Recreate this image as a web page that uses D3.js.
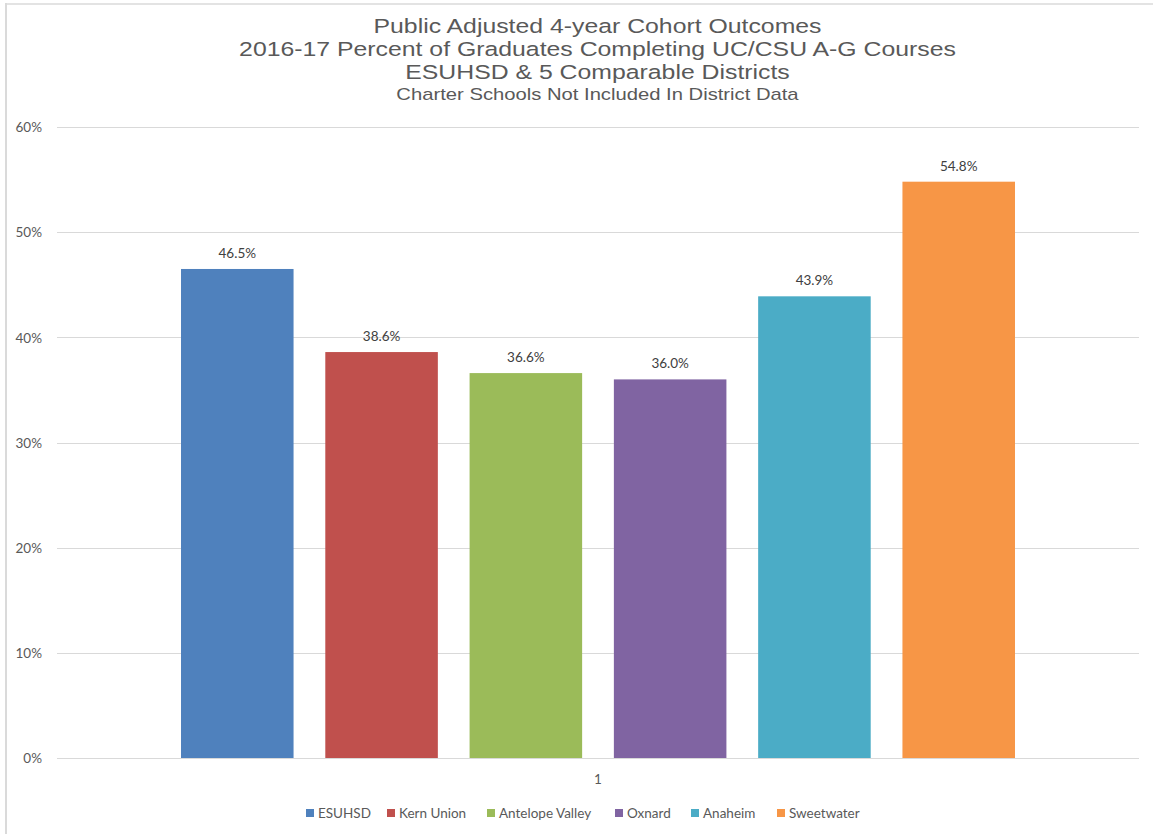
<!DOCTYPE html>
<html>
<head>
<meta charset="utf-8">
<script src="https://cdn.jsdelivr.net/npm/d3@7/dist/d3.min.js"></script>
<style>
  html, body { margin: 0; padding: 0; background: #fff; }
  svg { display: block; }
</style>
</head>
<body>
<script>
const categories = ["1"];
const seriesNames = ["ESUHSD", "Kern Union", "Antelope Valley", "Oxnard", "Anaheim", "Sweetwater"];
const seriesValues = [46.5, 38.6, 36.6, 36.0, 43.9, 54.8];
const seriesColors = ["#4F81BD", "#C0504D", "#9BBB59", "#8064A2", "#4BACC6", "#F79646"];
const yTicks = [0, 10, 20, 30, 40, 50, 60];
const titleLines = [
  "Public Adjusted 4-year Cohort Outcomes",
  "2016-17 Percent of Graduates Completing UC/CSU A-G Courses",
  "ESUHSD & 5 Comparable Districts"
];
const subtitle = "Charter Schools Not Included In District Data";

const W = 1153, H = 834;
const svg = d3.select("body").append("svg").attr("width", W).attr("height", H);

// outer frame (light grey)
svg.append("line").attr("x1", 6).attr("x2", 6).attr("y1", 3).attr("y2", H).attr("stroke", "#dadada").attr("stroke-width", 2);
svg.append("line").attr("x1", 5).attr("x2", W).attr("y1", 4).attr("y2", 4).attr("stroke", "#dadada").attr("stroke-width", 1.5);

const plot = { left: 57, right: 1139, top: 127, bottom: 758 };

const y = d3.scaleLinear().domain([0, 60]).range([plot.bottom, plot.top]);
const x0 = d3.scaleBand().domain(categories).range([plot.left, plot.right]).paddingInner(0).paddingOuter(0.1487);
const x1 = d3.scaleBand().domain(seriesNames).range([0, x0.bandwidth()]).paddingInner(0.22).paddingOuter(0);

const fontUI = "Lato, 'Open Sans', sans-serif";
const textCol = "#595959";
const uiSize = 13.5;

// gridlines
svg.append("g").selectAll("line").data(yTicks).join("line")
  .attr("x1", plot.left).attr("x2", plot.right)
  .attr("y1", d => Math.round(y(d)) + 0.5).attr("y2", d => Math.round(y(d)) + 0.5)
  .attr("stroke", "#d9d9d9").attr("stroke-width", 1);

// y axis labels
const yAxis = d3.axisLeft(y).tickValues(yTicks).tickFormat(d => d + "%").tickSize(0).tickPadding(0);
const gy = svg.append("g").attr("transform", `translate(42,0)`).call(yAxis);
gy.select(".domain").remove();
gy.selectAll("text").attr("font-family", fontUI).attr("font-size", uiSize).attr("fill", textCol).attr("dy", "0.35em");

// bars
const data = seriesNames.map((s, i) => ({ cat: categories[0], name: s, value: seriesValues[i], color: seriesColors[i] }));
const g = svg.append("g");
g.selectAll("rect").data(data).join("rect")
  .attr("x", d => x0(d.cat) + x1(d.name))
  .attr("width", x1.bandwidth())
  .attr("y", d => y(d.value))
  .attr("height", d => y(0) - y(d.value))
  .attr("fill", d => d.color);

// data labels
g.selectAll("text.lbl").data(data).join("text").attr("class", "lbl")
  .attr("x", d => x0(d.cat) + x1(d.name) + x1.bandwidth() / 2)
  .attr("y", d => y(d.value) - 11)
  .attr("text-anchor", "middle")
  .attr("font-family", fontUI).attr("font-size", uiSize).attr("fill", "#404040")
  .text(d => d.value.toFixed(1) + "%");

// x axis category label
const xAxis = d3.axisBottom(x0).tickSize(0).tickPadding(0);
const gx = svg.append("g").attr("transform", `translate(0,${plot.bottom + 26})`).call(xAxis);
gx.select(".domain").remove();
gx.selectAll("text").attr("font-family", fontUI).attr("font-size", uiSize).attr("fill", textCol).attr("dy", 0);

// title
const titleFont = "'Liberation Sans', Arial, sans-serif";
const tg = svg.append("g").attr("transform", "translate(597.5,0) scale(1.21,1)");
tg.selectAll("text.t").data(titleLines).join("text").attr("class", "t")
  .attr("x", 0).attr("y", (d, i) => 33.5 + i * 23)
  .attr("text-anchor", "middle")
  .attr("font-family", titleFont).attr("font-size", 20.5).attr("fill", textCol)
  .text(d => d);
svg.append("g").attr("transform", "translate(597.5,0) scale(1.19,1)")
  .append("text").attr("x", 0).attr("y", 100).attr("text-anchor", "middle")
  .attr("font-family", titleFont).attr("font-size", 17).attr("fill", textCol).text(subtitle);

// legend
const legendX = [306, 387, 487, 615, 691, 777];
const lg = svg.append("g").selectAll("g").data(data).join("g")
  .attr("transform", (d, i) => `translate(${legendX[i]},809)`);
lg.append("rect").attr("width", 8).attr("height", 8).attr("fill", d => d.color);
lg.append("text").attr("x", 12).attr("y", 9)
  .attr("font-family", fontUI).attr("font-size", uiSize).attr("fill", textCol)
  .text(d => d.name);
</script>
</body>
</html>
